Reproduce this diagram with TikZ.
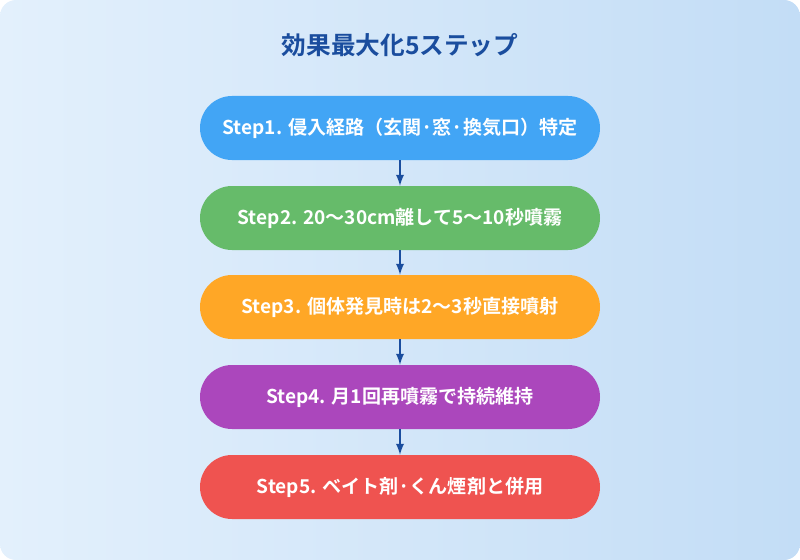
\documentclass[tikz,border=0pt]{standalone}
\usepackage{fontspec}
\setmainfont{Noto Sans CJK JP}[BoldFont={Noto Sans CJK JP Bold}]
\usetikzlibrary{positioning}
\definecolor{bgA}{HTML}{E3F0FC}
\definecolor{bgB}{HTML}{C3DDF6}
\definecolor{titleblue}{HTML}{1A4D9E}
\definecolor{stepblue}{HTML}{42A5F5}
\definecolor{stepgreen}{HTML}{66BB6A}
\definecolor{steporange}{HTML}{FFA726}
\definecolor{steppurple}{HTML}{AB47BC}
\definecolor{stepred}{HTML}{EF5350}
\begin{document}
\begin{tikzpicture}[x=0.75pt,y=-0.75pt]
    \tikzstyle{stepbox}=[rectangle, rounded corners=24pt, minimum width=300pt, minimum height=48pt,
                      text=white, font=\bfseries\fontsize{14.3}{17}\selectfont, inner sep=0pt]
    \tikzstyle{flow}=[->, >=latex, draw=titleblue, line width=1.8pt]
    \useasboundingbox (0,0) rectangle (800,560);
    \shade[left color=bgA, right color=bgB, rounded corners=12pt] (0,0) rectangle (800,560);
    \node[text=titleblue, font=\bfseries\fontsize{18.5}{22}\selectfont] (title) at (400,45) {効果最大化5ステップ};
    \node[stepbox, fill=stepblue] (s1) at (400,128) {Step1. 侵入経路（玄関·窓·換気口）特定};
    \node[stepbox, fill=stepgreen] (s2) at (400,218) {Step2. 20〜30cm離して5〜10秒噴霧};
    \node[stepbox, fill=steporange] (s3) at (400,307) {Step3. 個体発見時は2〜3秒直接噴射};
    \node[stepbox, fill=steppurple] (s4) at (400,397) {Step4. 月1回再噴霧で持続維持};
    \node[stepbox, fill=stepred] (s5) at (400,487) {Step5. ベイト剤·くん煙剤と併用};
    \foreach \a/\b in {s1/s2, s2/s3, s3/s4, s4/s5}
        \draw[flow] (\a) -- (\b);
\end{tikzpicture}
\end{document}
